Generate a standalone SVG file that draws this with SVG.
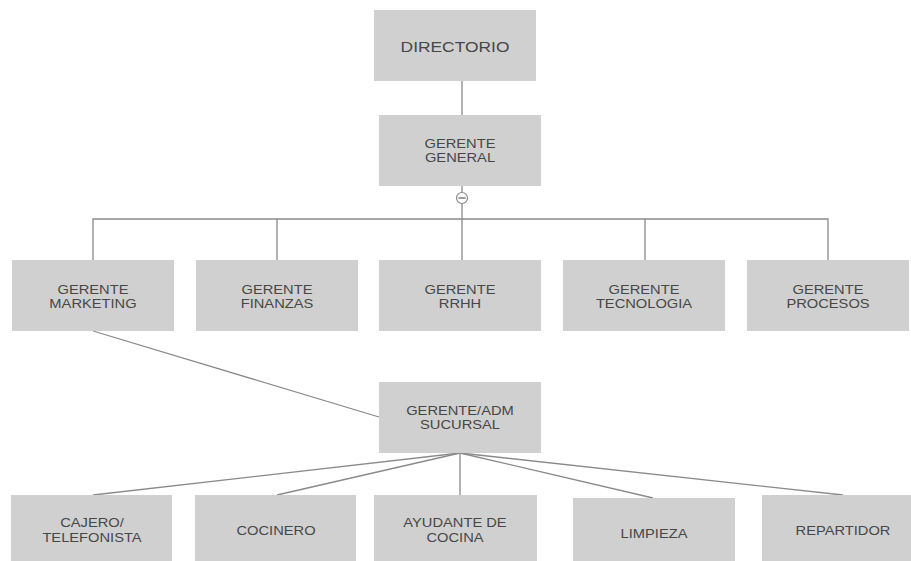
<svg xmlns="http://www.w3.org/2000/svg" width="911" height="561" viewBox="0 0 911 561">
  <style>
    .box { fill: #d0d0d0; }
    .lbl { font-family: "Liberation Sans", Arial, sans-serif; font-size: 13px; fill: #474747; text-anchor: middle; }
    .big { font-size: 14.5px; }
    .conn { stroke: #8a8a8a; stroke-width: 1.3; fill: none; }
  </style>
  <rect width="911" height="561" fill="#ffffff"/>

  <g id="connectors">
    <line class="conn" x1="462" y1="81" x2="462" y2="115"/>
    <line class="conn" x1="462" y1="186" x2="462" y2="219"/>
    <polyline class="conn" points="93,260 93,219 828,219 828,260"/>
    <line class="conn" x1="277" y1="219" x2="277" y2="260"/>
    <line class="conn" x1="462" y1="219" x2="462" y2="260"/>
    <line class="conn" x1="645" y1="219" x2="645" y2="260"/>
    <line class="conn" x1="93" y1="331" x2="379" y2="417"/>
    <line class="conn" x1="460" y1="453" x2="93" y2="495"/>
    <line class="conn" x1="460" y1="453" x2="277" y2="495"/>
    <line class="conn" x1="460" y1="453" x2="460" y2="495"/>
    <line class="conn" x1="460" y1="453" x2="653" y2="498"/>
    <line class="conn" x1="460" y1="453" x2="843" y2="495"/>
    <circle cx="462" cy="198" r="5.5" fill="#ffffff" stroke="#8a8a8a" stroke-width="1.2"/>
    <line x1="458.5" y1="198" x2="465.5" y2="198" stroke="#666" stroke-width="1.3"/>
  </g>

  <!-- labels are drawn at the origin and placed with translate + a slight horizontal stretch -->
  <g id="directorio">
    <rect class="box" x="374" y="10" width="162" height="71"/>
    <text class="lbl big" transform="translate(455 51.5) scale(1.2 1)">DIRECTORIO</text>
  </g>
  <g id="gerente-general">
    <rect class="box" x="379" y="115" width="162" height="71"/>
    <text class="lbl" transform="translate(460 147.5) scale(1.13 1)">GERENTE</text>
    <text class="lbl" transform="translate(460 161.5) scale(1.13 1)">GENERAL</text>
  </g>

  <g id="gerente-marketing">
    <rect class="box" x="12" y="260" width="162" height="71"/>
    <text class="lbl" transform="translate(93 293.5) scale(1.13 1)">GERENTE</text>
    <text class="lbl" transform="translate(93 307.5) scale(1.13 1)">MARKETING</text>
  </g>
  <g id="gerente-finanzas">
    <rect class="box" x="196" y="260" width="162" height="71"/>
    <text class="lbl" transform="translate(277 293.5) scale(1.13 1)">GERENTE</text>
    <text class="lbl" transform="translate(277 307.5) scale(1.13 1)">FINANZAS</text>
  </g>
  <g id="gerente-rrhh">
    <rect class="box" x="379" y="260" width="162" height="71"/>
    <text class="lbl" transform="translate(460 293.5) scale(1.13 1)">GERENTE</text>
    <text class="lbl" transform="translate(460 307.5) scale(1.13 1)">RRHH</text>
  </g>
  <g id="gerente-tecnologia">
    <rect class="box" x="563" y="260" width="162" height="71"/>
    <text class="lbl" transform="translate(644 293.5) scale(1.13 1)">GERENTE</text>
    <text class="lbl" transform="translate(644 307.5) scale(1.13 1)">TECNOLOGIA</text>
  </g>
  <g id="gerente-procesos">
    <rect class="box" x="747" y="260" width="162" height="71"/>
    <text class="lbl" transform="translate(828 293.5) scale(1.13 1)">GERENTE</text>
    <text class="lbl" transform="translate(828 307.5) scale(1.13 1)">PROCESOS</text>
  </g>

  <g id="gerente-sucursal">
    <rect class="box" x="379" y="382" width="162" height="71"/>
    <text class="lbl" transform="translate(460 414.5) scale(1.13 1)">GERENTE/ADM</text>
    <text class="lbl" transform="translate(460 428.5) scale(1.13 1)">SUCURSAL</text>
  </g>

  <g id="cajero">
    <rect class="box" x="11" y="495" width="161" height="71"/>
    <text class="lbl" transform="translate(92 526.5) scale(1.13 1)">CAJERO/</text>
    <text class="lbl" transform="translate(92 541.5) scale(1.13 1)">TELEFONISTA</text>
  </g>
  <g id="cocinero">
    <rect class="box" x="195" y="495" width="161" height="71"/>
    <text class="lbl" transform="translate(276 534.5) scale(1.13 1)">COCINERO</text>
  </g>
  <g id="ayudante">
    <rect class="box" x="374" y="495" width="163" height="71"/>
    <text class="lbl" transform="translate(455 526.5) scale(1.13 1)">AYUDANTE DE</text>
    <text class="lbl" transform="translate(455 541.5) scale(1.13 1)">COCINA</text>
  </g>
  <g id="limpieza">
    <rect class="box" x="573" y="498" width="162" height="71"/>
    <text class="lbl" transform="translate(654 537.5) scale(1.13 1)">LIMPIEZA</text>
  </g>
  <g id="repartidor">
    <rect class="box" x="762" y="495" width="162" height="71"/>
    <text class="lbl" transform="translate(843 534.5) scale(1.13 1)">REPARTIDOR</text>
  </g>
</svg>
